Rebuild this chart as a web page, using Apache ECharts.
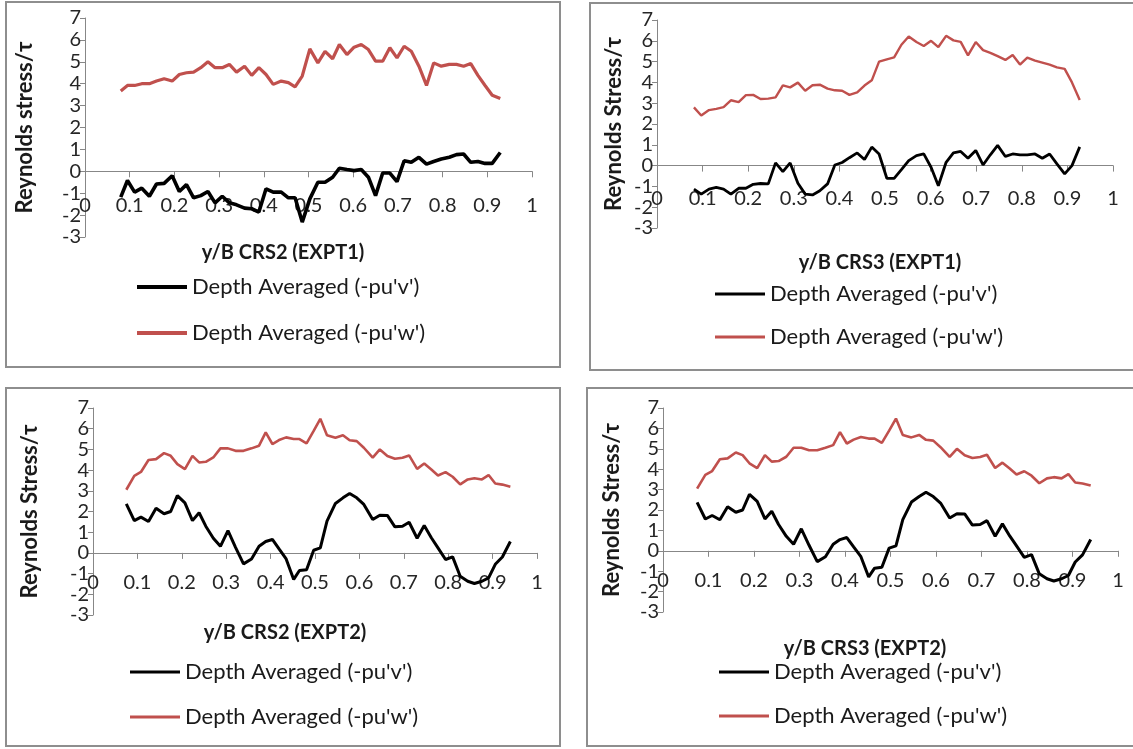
<!DOCTYPE html>
<html>
<head>
<meta charset="utf-8">
<script src="https://cdn.jsdelivr.net/npm/echarts@6/dist/echarts.min.js"></script>
<style>
html, body { margin: 0; padding: 0; background: #fff; }
#chart { width: 1133px; height: 749px; }
</style>
</head>
<body>
<div id="chart"></div>
<script>
// y/B positions and depth averaged stresses
var xCrs2Expt1 = [0.080,0.095,0.111,0.127,0.144,0.160,0.177,0.195,0.211,0.227,0.243,0.259,0.275,0.291,0.307,0.323,0.339,0.357,0.373,0.389,0.405,0.421,0.439,0.455,0.470,0.486,0.503,0.521,0.537,0.554,0.569,0.586,0.602,0.618,0.634,0.650,0.666,0.682,0.698,0.714,0.730,0.747,0.764,0.780,0.797,0.815,0.831,0.847,0.863,0.879,0.895,0.911,0.929];
var uvCrs2Expt1 = [-1.18,-0.42,-0.95,-0.77,-1.14,-0.58,-0.55,-0.2,-0.92,-0.61,-1.21,-1.11,-0.92,-1.44,-1.14,-1.44,-1.53,-1.68,-1.71,-1.86,-0.8,-0.95,-0.95,-1.21,-1.21,-2.32,-1.26,-0.5,-0.5,-0.27,0.14,0.08,0.03,0.08,-0.27,-1.11,-0.08,-0.08,-0.47,0.48,0.41,0.64,0.33,0.45,0.56,0.64,0.76,0.79,0.41,0.45,0.36,0.36,0.86];
var uwCrs2Expt1 = [3.67,3.92,3.92,4.0,4.0,4.12,4.23,4.12,4.42,4.5,4.53,4.73,5.0,4.73,4.73,4.88,4.53,4.8,4.38,4.73,4.42,3.97,4.12,4.05,3.86,4.35,5.59,4.95,5.48,5.14,5.79,5.33,5.67,5.79,5.56,5.03,5.03,5.64,5.18,5.71,5.48,4.8,3.92,4.95,4.8,4.88,4.88,4.8,4.92,4.38,3.92,3.47,3.32];

var xCrs3Expt1 = [0.081,0.097,0.114,0.130,0.146,0.162,0.179,0.195,0.211,0.227,0.244,0.260,0.276,0.292,0.309,0.325,0.341,0.357,0.374,0.390,0.406,0.422,0.439,0.455,0.471,0.487,0.504,0.520,0.536,0.552,0.569,0.585,0.601,0.617,0.634,0.650,0.666,0.682,0.699,0.715,0.731,0.747,0.764,0.780,0.796,0.812,0.829,0.845,0.861,0.877,0.894,0.910,0.927];
var uvCrs3Expt1 = [-1.13,-1.37,-1.13,-1.05,-1.13,-1.37,-1.09,-1.09,-0.9,-0.86,-0.88,0.13,-0.29,0.13,-0.85,-1.37,-1.41,-1.21,-0.88,0.03,0.15,0.38,0.61,0.29,0.89,0.56,-0.61,-0.61,-0.19,0.24,0.48,0.56,-0.08,-0.97,0.16,0.61,0.68,0.35,0.73,0.03,0.52,0.97,0.44,0.56,0.52,0.52,0.56,0.35,0.56,0.08,-0.4,0.0,0.9];
var uwCrs3Expt1 = [2.8,2.41,2.67,2.73,2.81,3.14,3.05,3.39,3.4,3.2,3.22,3.28,3.86,3.76,3.99,3.6,3.86,3.89,3.7,3.62,3.6,3.4,3.52,3.85,4.1,5.0,5.11,5.2,5.81,6.21,5.94,5.75,6.0,5.7,6.24,6.02,5.95,5.3,5.94,5.55,5.42,5.26,5.08,5.32,4.86,5.19,5.05,4.95,4.85,4.72,4.65,4.0,3.15];

var xExpt2 = [0.075,0.093,0.108,0.125,0.142,0.160,0.175,0.190,0.207,0.224,0.239,0.254,0.271,0.287,0.304,0.321,0.339,0.357,0.374,0.389,0.404,0.419,0.435,0.452,0.465,0.481,0.497,0.512,0.527,0.546,0.563,0.578,0.594,0.610,0.630,0.646,0.663,0.680,0.697,0.712,0.730,0.746,0.762,0.777,0.794,0.810,0.827,0.844,0.859,0.876,0.891,0.906,0.922,0.940];
var uvExpt2 = [2.37,1.56,1.73,1.52,2.16,1.89,2.0,2.77,2.42,1.56,1.94,1.29,0.71,0.32,1.08,0.27,-0.53,-0.29,0.32,0.55,0.65,0.19,-0.29,-1.28,-0.85,-0.81,0.13,0.24,1.53,2.39,2.66,2.87,2.66,2.34,1.61,1.82,1.81,1.26,1.29,1.48,0.71,1.32,0.73,0.24,-0.32,-0.19,-1.13,-1.37,-1.48,-1.37,-1.21,-0.55,-0.2,0.55];
var uwExpt2 = [3.05,3.72,3.91,4.49,4.53,4.82,4.69,4.29,4.05,4.69,4.37,4.4,4.61,5.05,5.05,4.93,4.93,5.05,5.18,5.82,5.26,5.45,5.58,5.5,5.5,5.29,5.89,6.48,5.68,5.56,5.68,5.44,5.4,5.08,4.6,5.0,4.68,4.55,4.6,4.71,4.06,4.32,4.03,3.74,3.9,3.68,3.31,3.55,3.61,3.55,3.76,3.35,3.3,3.2];

var nameUV = "Depth Averaged (-pu'v')";
var nameUW = "Depth Averaged (-pu'w')";
var font = 'Lato, "Open Sans", sans-serif';
var red = '#C0504D';

function pairs(xs, ys) {
    return xs.map(function (x, i) { return [x, ys[i]]; });
}

// one entry per panel: where the plot sits, texts, data
var panels = [
    { box: [6, 2, 554, 365], grid: [85, 18, 447, 219], yName: 'Reynolds stress/τ', nameGap: 49, labelMargin: 24,
      title: 'y/B CRS2 (EXPT1)', titlePos: [283, 253], legendPos: [137, 276], legendGap: 24, lw: 3.6,
      xs: xCrs2Expt1, uv: uvCrs2Expt1, uw: uwCrs2Expt1 },
    { box: [590, 3, 545, 367], grid: [657, 20, 456, 208], yName: 'Reynolds Stress/τ', nameGap: 32, labelMargin: 23,
      title: 'y/B CRS3 (EXPT1)', titlePos: [880, 263], legendPos: [715, 283], legendGap: 21, lw: 2.8,
      xs: xCrs3Expt1, uv: uvCrs3Expt1, uw: uwCrs3Expt1 },
    { box: [6, 388, 554, 358], grid: [93, 408, 444, 207], yName: 'Reynolds Stress/τ', nameGap: 52, labelMargin: 20,
      title: 'y/B CRS2 (EXPT2)', titlePos: [285, 633], legendPos: [130, 661], legendGap: 23, lw: 3,
      xs: xExpt2, uv: uvExpt2, uw: uwExpt2 },
    { box: [587, 388, 548, 358], grid: [663, 408, 455, 204], yName: 'Reynolds Stress/τ', nameGap: 40, labelMargin: 20,
      title: 'y/B CRS3 (EXPT2)', titlePos: [865, 649], legendPos: [719, 661], legendGap: 22, lw: 3,
      xs: xExpt2, uv: uvExpt2, uw: uwExpt2 }
];

var option = { animation: false, grid: [], xAxis: [], yAxis: [], series: [], legend: [], graphic: [] };

panels.forEach(function (p, i) {
    option.graphic.push({
        type: 'rect', z: 0,
        shape: { x: p.box[0], y: p.box[1], width: p.box[2], height: p.box[3] },
        style: { fill: 'none', stroke: '#8e8e8e', lineWidth: 2 }
    });
    option.graphic.push({
        type: 'text', x: p.titlePos[0], y: p.titlePos[1],
        style: { text: p.title, font: 'bold 20px ' + font, fill: '#1a1a1a',
                 align: 'center', verticalAlign: 'middle', textAlign: 'center', textVerticalAlign: 'middle' }
    });
    option.grid.push({ left: p.grid[0], top: p.grid[1], width: p.grid[2], height: p.grid[3] });
    // x axis sits on y = 0 (three tenths of the way up the -3..7 range), labels follow it
    option.xAxis.push({
        type: 'value', gridIndex: i, min: 0, max: 1, interval: 0.1,
        position: 'bottom', offset: -p.grid[3] * 0.3,
        splitLine: { show: false },
        axisLine: { onZero: false, lineStyle: { color: '#878787', width: 1 } },
        axisTick: { show: true, length: 6, lineStyle: { color: '#878787' } },
        axisLabel: { margin: p.labelMargin, fontSize: 20, fontFamily: font, color: '#262626',
                     formatter: function (v) { return String(+v.toFixed(1)); } }
    });
    option.yAxis.push({
        type: 'value', gridIndex: i, min: -3, max: 7, interval: 1,
        name: p.yName, nameLocation: 'middle', nameGap: p.nameGap, nameRotate: 90, nameMoveOverlap: false,
        nameTextStyle: { fontSize: 22, fontWeight: 'bold', fontFamily: font, color: '#1a1a1a' },
        splitLine: { show: false },
        axisLine: { show: true, lineStyle: { color: '#878787', width: 1 } },
        axisTick: { show: true, length: 5, lineStyle: { color: '#878787' } },
        axisLabel: { margin: 4, fontSize: 20, fontFamily: font, color: '#262626' }
    });
    option.series.push({
        name: nameUW, type: 'line', xAxisIndex: i, yAxisIndex: i, symbol: 'none',
        data: pairs(p.xs, p.uw), color: red,
        lineStyle: { color: red, width: p.lw - 0.4 }
    });
    option.series.push({
        name: nameUV, type: 'line', xAxisIndex: i, yAxisIndex: i, symbol: 'none', z: 3,
        data: pairs(p.xs, p.uv), color: '#000',
        lineStyle: { color: '#000', width: p.lw }
    });
    option.legend.push({
        data: [nameUV, nameUW], orient: 'vertical', left: p.legendPos[0], top: p.legendPos[1],
        padding: 0, itemGap: p.legendGap, itemWidth: 50, itemHeight: Math.round(p.lw),
        icon: 'rect', selectedMode: false,
        textStyle: { fontSize: 22, fontFamily: font, color: '#1a1a1a' }
    });
});

var chart = echarts.init(document.getElementById('chart'));
chart.setOption(option);
</script>
</body>
</html>
